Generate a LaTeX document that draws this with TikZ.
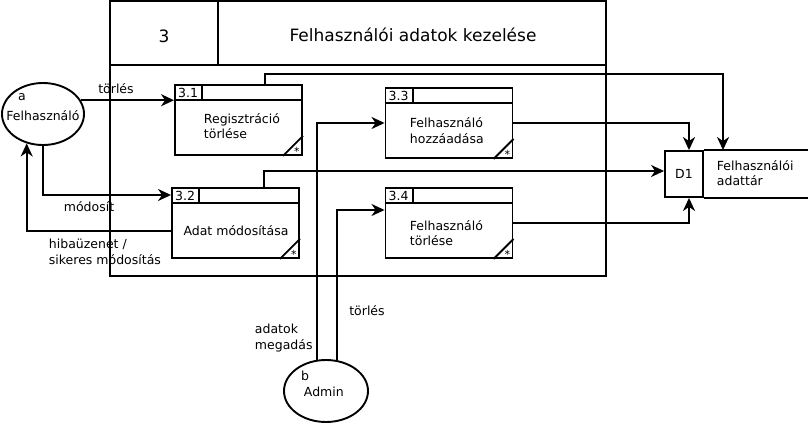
\documentclass[tikz,border=0pt]{standalone}
\usepackage{fontspec}
\setmainfont{DejaVu Sans}
\usetikzlibrary{arrows.meta,shapes.geometric}
\newcommand\procbox[3]{%
  \node[proc] (#1) at (#2) {};
  \draw ([yshift=-16pt]#1.north west) -- ([yshift=-16pt]#1.north east);
  \draw ([xshift=28pt]#1.north west) -- ([xshift=28pt,yshift=-16pt]#1.north west);
  \node[txt] (#1id) at ([xshift=14pt,yshift=-8.5pt]#1.north west) {#3};
  \draw ([xshift=-20pt]#1.south east) -- ([yshift=20pt]#1.south east);
  \node[startxt] (#1st) at ([xshift=-6pt,yshift=5pt]#1.south east) {*};
}
\begin{document}
\begin{tikzpicture}[x=1pt,y=-1pt,line width=1.9pt,
  txt/.style={inner sep=0pt,font=\fontsize{12.5}{15.5}\selectfont,align=left},
  startxt/.style={inner sep=0pt,font=\fontsize{11}{11}\selectfont},
  proc/.style={draw,minimum width=127pt,minimum height=70pt,inner sep=0pt},
  ent/.style={draw,ellipse,inner sep=0pt},
  arr/.style={-{Stealth[length=13pt,width=12pt,inset=4pt]}}]
\fill[white] (0,0) rectangle (808,425);
\useasboundingbox (0,0) rectangle (808,425);
% outer process
\node[draw,minimum width=496pt,minimum height=275pt,inner sep=0pt] (P3) at (358,138.5) {};
\draw ([yshift=-65pt]P3.north west) -- ([yshift=-65pt]P3.north east);
\draw ([xshift=109pt]P3.north west) -- ([xshift=109pt,yshift=-65pt]P3.north west);
\node[inner sep=0pt,font=\fontsize{17}{20}\selectfont] (P3id) at (164,36) {3};
\node[inner sep=0pt,font=\fontsize{17}{20}\selectfont] (P3t) at (413,35) {Felhasználói adatok kezelése};
% sub processes
\procbox{p31}{238.5,120}{3.1}
\procbox{p32}{235.5,223}{3.2}
\procbox{p33}{449,123}{3.3}
\procbox{p34}{449,223}{3.4}
\node[txt,anchor=west] (p31t) at (203,126) {Regisztráció\\törlése};
\node[txt] (p32t) at (236,231) {Adat módosítása};
\node[txt,anchor=west] (p33t) at (409,130.5) {Felhasználó\\hozzáadása};
\node[txt,anchor=west] (p34t) at (409,233) {Felhasználó\\törlése};
% entities
\node[ent,minimum width=82pt,minimum height=62pt] (a) at (43,114) {};
\node[txt] (aid) at (22,97) {a};
\node[txt] (an) at (43,116) {Felhasználó};
\node[ent,minimum width=84pt,minimum height=62pt] (b) at (326,391) {};
\node[txt] (bid) at (305,376) {b};
\node[txt,anchor=west] (bn) at (303,392) {Admin};
% data store
\node[draw,minimum width=38pt,minimum height=46pt,inner sep=0pt,font=\fontsize{12.5}{15}\selectfont] (D1) at (684,174) {D1};
\draw (D1.north east) -- ++(110,0);
\draw (D1.south east) -- ++(110,0);
\node[txt,anchor=west] (D1t) at (716,173) {Felhasználói\\adattár};
% flows
\draw[arr] (a.20) -- (a.20 -| p31.west);
\draw[arr] (a.south) |- ([yshift=28pt]p32.west);
\draw[arr] ([yshift=-8pt]p32.west) -| (a.-119);
\draw[arr] ([xshift=26.5pt]p31.north) -- ++(0,-10) -| ([xshift=39pt]D1.north);
\draw[arr] ([xshift=28.5pt]p32.north) |- ([yshift=3pt]D1.west);
\draw[arr] (p33.east) -| ([xshift=5pt]D1.north);
\draw[arr] (p34.east) -| ([xshift=5pt]D1.south);
\draw[arr] ([xshift=0.2pt]b.107) |- (p33.west);
\draw[arr] (b.70) |- ([yshift=13pt]p34.west);
% labels
\node[txt] (lt1) at (116,89) {törlés};
\node[txt] (lm) at (89,207) {módosít};
\node[txt,anchor=west] (lh) at (48,252) {hibaüzenet /\\sikeres módosítás};
\node[txt,anchor=west] (lad) at (254,338) {adatok\\megadás};
\node[txt] (lt2) at (367,311) {törlés};
\end{tikzpicture}
\end{document}
